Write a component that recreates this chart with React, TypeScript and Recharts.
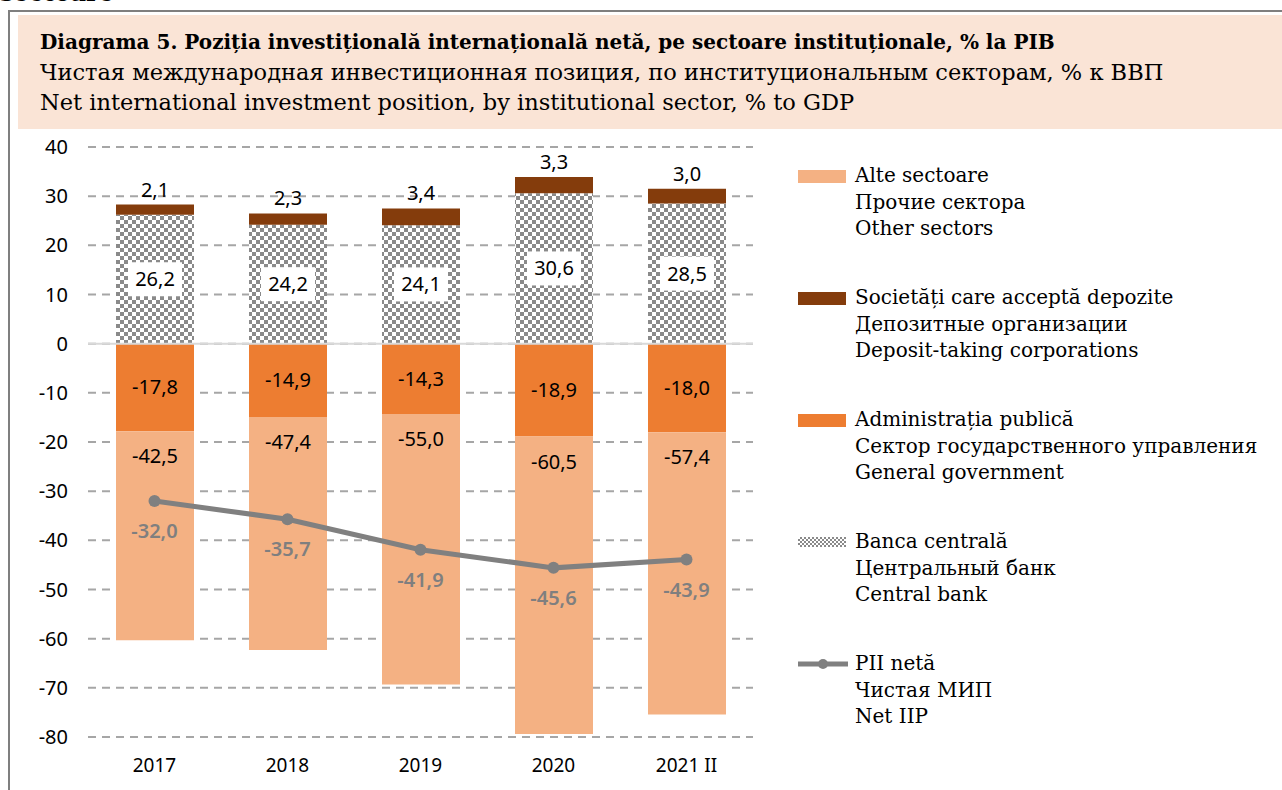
import {
  ComposedChart,
  Bar,
  Line,
  XAxis,
  YAxis,
  CartesianGrid,
  ReferenceLine,
  LabelList,
} from 'recharts';

const categories = ['2017', '2018', '2019', '2020', '2021 II'];
const otherSectors = [-42.5, -47.4, -55.0, -60.5, -57.4];
const depositTaking = [2.1, 2.3, 3.4, 3.3, 3.0];
const generalGov = [-17.8, -14.9, -14.3, -18.9, -18.0];
const centralBank = [26.2, 24.2, 24.1, 30.6, 28.5];
const netIIP = [-32.0, -35.7, -41.9, -45.6, -43.9];
const yTicks = [40, 30, 20, 10, 0, -10, -20, -30, -40, -50, -60, -70, -80];

const data = categories.map((c, i) => ({
  cat: c,
  other: otherSectors[i],
  deposit: depositTaking[i],
  gov: generalGov[i],
  cb: centralBank[i],
  iip: netIIP[i],
}));

const TEXT_FONT = '"DejaVu Serif", serif';
const NUM_FONT = '"Noto Sans", sans-serif';
const fmt = (v: any) => Number(v).toFixed(1).replace('.', ',');

const legendItems = [
  { kind: 'other', lines: ['Alte sectoare', 'Прочие сектора', 'Other sectors'] },
  { kind: 'deposit', lines: ['Societăți care acceptă depozite', 'Депозитные организации', 'Deposit-taking corporations'] },
  { kind: 'gov', lines: ['Administrația publică', 'Сектор государственного управления', 'General government'] },
  { kind: 'cb', lines: ['Banca centrală', 'Центральный банк', 'Central bank'] },
  { kind: 'iip', lines: ['PII netă', 'Чистая МИП', 'Net IIP'] },
];

function CbLabel(props: any) {
  const { x, y, width, height, value } = props;
  const cx = x + width / 2;
  const cy = y + height / 2;
  return (
    <g>
      <rect x={cx - 27} y={cy - 17} width={54} height={34} fill="#fff" />
      <text x={cx} y={cy} dy="0.35em" textAnchor="middle" fontSize={20} fontFamily={NUM_FONT} fill="#000">
        {fmt(value)}
      </text>
    </g>
  );
}

function TopLabel(props: any) {
  const { x, y, width, value } = props;
  return (
    <text x={x + width / 2} y={y - 15} dy="0.35em" textAnchor="middle" fontSize={20} fontFamily={NUM_FONT} fill="#000">
      {fmt(value)}
    </text>
  );
}

function MidLabel(props: any) {
  const { x, y, width, height, value } = props;
  return (
    <text x={x + width / 2} y={y + height / 2} dy="0.35em" textAnchor="middle" fontSize={20} fontFamily={NUM_FONT} fill="#000">
      {fmt(value)}
    </text>
  );
}

function OtherLabel(props: any) {
  const { x, y, width, height, value } = props;
  // negative bars: take the upper edge whichever way height is signed
  const top = height < 0 ? y + height : y;
  return (
    <text x={x + width / 2} y={top + 25} dy="0.35em" textAnchor="middle" fontSize={20} fontFamily={NUM_FONT} fill="#000">
      {fmt(value)}
    </text>
  );
}

function LineLabel(props: any) {
  const { x, y, value } = props;
  return (
    <text x={x} y={y + 30} dy="0.35em" textAnchor="middle" fontSize={20} fontWeight={600} fontFamily={NUM_FONT} fill="#7f7f7f">
      {fmt(value)}
    </text>
  );
}

function Swatch({ kind }: { kind: string }) {
  if (kind === 'iip') {
    return (
      <svg width={52} height={14} style={{ display: 'block' }}>
        <line x1={0} y1={7} x2={50} y2={7} stroke="#808080" strokeWidth={5} />
        <circle cx={25} cy={7} r={5} fill="#808080" />
      </svg>
    );
  }
  if (kind === 'cb') {
    return (
      <svg width={52} height={14} style={{ display: 'block' }}>
        <defs>
          <pattern id="checkerLeg" width={4} height={4} patternUnits="userSpaceOnUse">
            <rect width={4} height={4} fill="#fff" />
            <rect width={2} height={2} fill="#8a8a8a" />
            <rect x={2} y={2} width={2} height={2} fill="#8a8a8a" />
          </pattern>
        </defs>
        <rect x={0} y={2} width={48} height={10} fill="url(#checkerLeg)" />
      </svg>
    );
  }
  const color = kind === 'other' ? '#F4B183' : kind === 'deposit' ? '#843C0C' : '#ED7D31';
  return (
    <svg width={52} height={14} style={{ display: 'block' }}>
      <rect x={0} y={1} width={48} height={13} fill={color} />
    </svg>
  );
}

export default function App() {
  return (
    <div style={{ position: 'absolute', left: 0, top: 0, width: 1282, height: 790, overflow: 'hidden', background: '#fff' }}>
      <div style={{ position: 'absolute', left: 0, top: -22, fontFamily: TEXT_FONT, fontWeight: 700, fontSize: 24, color: '#000' }}>
        sectoare
      </div>
      {/* frame */}
      <div style={{ position: 'absolute', left: 8, top: 10, width: 1280, height: 800, borderTop: '2px solid #7f7f7f', borderLeft: '2px solid #7f7f7f' }} />
      {/* title box */}
      <div
        style={{
          position: 'absolute',
          left: 18,
          top: 15,
          width: 1264,
          height: 114,
          background: '#FAE4D6',
          fontFamily: TEXT_FONT,
          fontSize: 22.5,
          lineHeight: '30px',
          color: '#000',
          boxSizing: 'border-box',
          paddingLeft: 22,
          paddingTop: 12,
          whiteSpace: 'nowrap',
        }}
      >
        <div style={{ fontWeight: 700, fontSize: 20 }}>
          Diagrama 5. Poziția investițională internațională netă, pe sectoare instituționale, % la PIB
        </div>
        <div>Чистая международная инвестиционная позиция, по институциональным секторам, % к ВВП</div>
        <div>Net international investment position, by institutional sector, % to GDP</div>
      </div>

      <div style={{ position: 'absolute', left: 0, top: 0 }}>
        <ComposedChart
          width={1282}
          height={790}
          data={data}
          stackOffset="sign"
          barSize={78}
          margin={{ top: 147, right: 529, left: 28, bottom: 13 }}
        >
          <defs>
            <pattern id="checker" width={8} height={8} patternUnits="userSpaceOnUse">
              <rect width={8} height={8} fill="#fff" />
              <rect width={4} height={4} fill="#8a8a8a" />
              <rect x={4} y={4} width={4} height={4} fill="#8a8a8a" />
            </pattern>
          </defs>
          <CartesianGrid vertical={false} stroke="#a6a6a6" strokeWidth={2} strokeDasharray="8 6" />
          <XAxis
            dataKey="cat"
            height={40}
            axisLine={false}
            tickLine={false}
            tickSize={0}
            tickMargin={22}
            tick={{ fill: '#000', fontSize: 19, fontFamily: NUM_FONT }}
          />
          <YAxis
            width={60}
            domain={[-80, 40]}
            ticks={yTicks}
            interval={0}
            axisLine={false}
            tickLine={false}
            tickSize={0}
            tickMargin={20}
            tick={{ fill: '#000', fontSize: 20, fontFamily: NUM_FONT }}
          />
          <ReferenceLine y={0} stroke="#d9d9d9" strokeWidth={2} />
          <Bar dataKey="cb" stackId="a" fill="url(#checker)" isAnimationActive={false}>
            <LabelList dataKey="cb" content={<CbLabel />} />
          </Bar>
          <Bar dataKey="deposit" stackId="a" fill="#843C0C" isAnimationActive={false}>
            <LabelList dataKey="deposit" content={<TopLabel />} />
          </Bar>
          <Bar dataKey="gov" stackId="a" fill="#ED7D31" isAnimationActive={false}>
            <LabelList dataKey="gov" content={<MidLabel />} />
          </Bar>
          <Bar dataKey="other" stackId="a" fill="#F4B183" isAnimationActive={false}>
            <LabelList dataKey="other" content={<OtherLabel />} />
          </Bar>
          <Line
            dataKey="iip"
            stroke="#808080"
            strokeWidth={5}
            dot={{ r: 6, fill: '#808080', stroke: '#808080', strokeWidth: 0 }}
            isAnimationActive={false}
          >
            <LabelList dataKey="iip" content={<LineLabel />} />
          </Line>
        </ComposedChart>
      </div>

      {/* legend */}
      <div style={{ position: 'absolute', left: 798, top: 162, fontFamily: TEXT_FONT, fontSize: 20, color: '#000' }}>
        {legendItems.map((it, i) => (
          <div key={i} style={{ display: 'flex', alignItems: 'flex-start', height: 122 }}>
            <div style={{ width: 57, paddingTop: 7 }}>
              <Swatch kind={it.kind} />
            </div>
            <div style={{ lineHeight: '26.5px', whiteSpace: 'nowrap' }}>
              {it.lines.map((l, j) => (
                <div key={j}>{l}</div>
              ))}
            </div>
          </div>
        ))}
      </div>
    </div>
  );
}
